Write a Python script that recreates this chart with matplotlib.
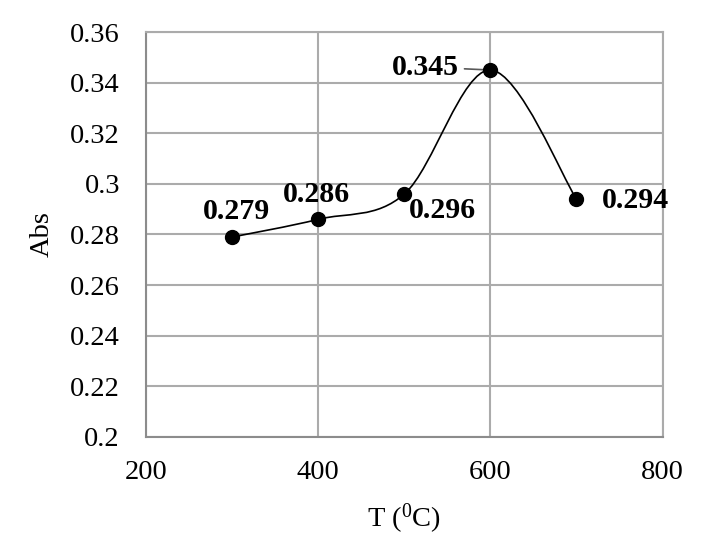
import matplotlib
matplotlib.use("Agg")
import matplotlib.pyplot as plt
from matplotlib.path import Path
from matplotlib.patches import PathPatch

plt.rcParams['font.family'] = ['Liberation Serif', 'DejaVu Serif']
plt.rcParams['mathtext.fontset'] = 'custom'
plt.rcParams['mathtext.rm'] = 'Liberation Serif'

temps = [300, 400, 500, 600, 700]
absorb = [0.279, 0.286, 0.296, 0.345, 0.294]
labels = ['0.279', '0.286', '0.296', '0.345', '0.294']
# label offsets in pixels (x, y)
offsets = [(4, 26), (-2, 25), (38, -17), (-65, 3), (59, -1)]

fig = plt.figure(figsize=(7.17, 5.53), dpi=100)
ax = fig.add_axes([0.204, 0.210, 0.720, 0.732])

# smoothed line like a spreadsheet "smooth line" (cubic bezier through the points)
n = len(temps)
verts = [(temps[0], absorb[0])]
codes = [Path.MOVETO]
for i in range(n - 1):
    p0 = (temps[max(i - 1, 0)], absorb[max(i - 1, 0)])
    p1 = (temps[i], absorb[i])
    p2 = (temps[i + 1], absorb[i + 1])
    p3 = (temps[min(i + 2, n - 1)], absorb[min(i + 2, n - 1)])
    c1 = (p1[0] + (p2[0] - p0[0]) / 6, p1[1] + (p2[1] - p0[1]) / 6)
    c2 = (p2[0] - (p3[0] - p1[0]) / 6, p2[1] - (p3[1] - p1[1]) / 6)
    verts += [c1, c2, p2]
    codes += [Path.CURVE4] * 3
ax.add_patch(PathPatch(Path(verts, codes), fill=False, lw=1.2, color='black', zorder=3))

ax.plot(temps, absorb, 'o', color='black', markersize=10, zorder=4)

for t, a, lab, off in zip(temps, absorb, labels, offsets):
    if lab == '0.345':
        ax.annotate(lab, (t, a), xytext=off, textcoords='offset pixels',
                    ha='center', va='center', fontsize=21.5, fontweight='bold',
                    arrowprops=dict(arrowstyle='-', color='#595959', lw=1.2,
                                    shrinkA=2, shrinkB=4))
    else:
        ax.annotate(lab, (t, a), xytext=off, textcoords='offset pixels',
                    ha='center', va='center', fontsize=21.5, fontweight='bold')

ax.set_xlim(200, 800)
ax.set_ylim(0.2, 0.36)
ax.set_xticks([200, 400, 600, 800])
ax.set_yticks([0.2, 0.22, 0.24, 0.26, 0.28, 0.3, 0.32, 0.34, 0.36])
ax.set_yticklabels(['0.2', '0.22', '0.24', '0.26', '0.28', '0.3', '0.32', '0.34', '0.36'])
ax.tick_params(length=0, labelsize=20.5)
ax.tick_params(axis='y', pad=19)
ax.tick_params(axis='x', pad=17)

ax.grid(True, color='#ababab', lw=1.5)
ax.set_axisbelow(True)
for s in ['top', 'right']:
    ax.spines[s].set_color('#ababab')
    ax.spines[s].set_linewidth(1.5)
for s in ['left', 'bottom']:
    ax.spines[s].set_color('#8c8c8c')
    ax.spines[s].set_linewidth(1.5)

ax.set_xlabel(r'T ($\mathregular{^0}$C)', fontsize=20.5, labelpad=12)
ax.set_ylabel('Abs', fontsize=20.5, labelpad=11)

fig.savefig('out.png', dpi=100)
